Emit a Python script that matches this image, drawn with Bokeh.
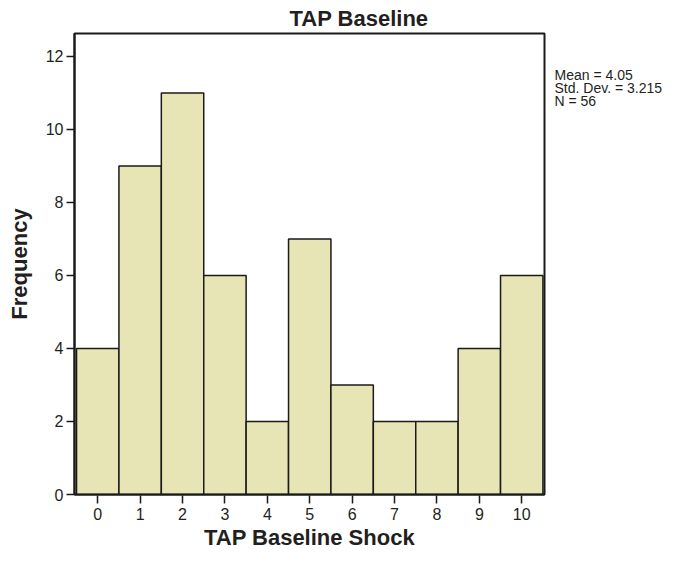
from bokeh.plotting import figure
from bokeh.layouts import row
from bokeh.models import Range1d, FixedTicker
from bokeh.core.properties import value
from bokeh.embed import file_html
from bokeh.resources import INLINE

shock_values = [0, 1, 2, 3, 4, 5, 6, 7, 8, 9, 10]
frequencies = [4, 9, 11, 6, 2, 7, 3, 2, 2, 4, 6]
y_ticks = [0, 2, 4, 6, 8, 10, 12]
stats_lines = ["Mean = 4.05", "Std. Dev. = 3.215", "N = 56"]

TXT = "#231f20"
FONT = "Liberation Sans"

p = figure(width=546, height=555, output_backend="svg", toolbar_location=None,
           x_range=Range1d(-0.548, 10.537), y_range=Range1d(0, 12.63),
           min_border_left=74, min_border_right=2, min_border_bottom=61, min_border_top=32)

p.title.text = "TAP Baseline"
p.title.align = "left"
p.title.offset = 215
p.title.text_font = FONT
p.title.text_font_size = "22px"
p.title.text_font_style = "bold"
p.title.text_color = TXT
p.title.standoff = 6

p.vbar(x=shock_values, top=frequencies, width=1.0, bottom=0,
       fill_color="#e7e4b5", line_color="#1a1a1a", line_width=1.5)

p.xgrid.grid_line_color = None
p.ygrid.grid_line_color = None
p.outline_line_color = "#1a1a1a"
p.outline_line_width = 2
p.background_fill_color = "white"
p.border_fill_color = "white"

p.xaxis.ticker = FixedTicker(ticks=shock_values)
p.yaxis.ticker = FixedTicker(ticks=y_ticks)
for ax in (p.xaxis, p.yaxis):
    ax.axis_line_color = "#1a1a1a"
    ax.axis_line_width = 2
    ax.major_tick_line_color = "#1a1a1a"
    ax.major_tick_line_width = 1.5
    ax.minor_tick_line_color = None
    ax.major_label_text_font = FONT
    ax.major_label_text_font_size = "16px"
    ax.major_label_text_color = TXT
    ax.axis_label_text_font = FONT
    ax.axis_label_text_font_size = "22px"
    ax.axis_label_text_font_style = "bold"
    ax.axis_label_text_color = TXT

p.xaxis.major_tick_in = -1
p.xaxis.major_tick_out = 9
p.xaxis.major_label_standoff = 4
p.xaxis.axis_label = "TAP Baseline Shock"
p.xaxis.axis_label_standoff = 2

p.yaxis.major_tick_in = 0
p.yaxis.major_tick_out = 8
p.yaxis.major_label_standoff = 3
p.yaxis.axis_label = "Frequency"
p.yaxis.axis_label_standoff = 11

# side panel holding the summary statistics; shares the frequency scale
s = figure(width=121, height=555, output_backend="svg", toolbar_location=None,
           title=None, x_range=Range1d(0, 121), y_range=p.y_range,
           x_axis_type=None, y_axis_type=None,
           min_border=0, min_border_left=0, min_border_right=0,
           min_border_top=32, min_border_bottom=61)
s.outline_line_color = None
s.xgrid.grid_line_color = None
s.ygrid.grid_line_color = None
s.background_fill_color = "white"
s.border_fill_color = "white"
s.text(x=[8, 8, 8], y=[11.48, 11.13, 10.77], text=stats_lines,
       text_font=value(FONT), text_font_size="14px", text_color=TXT,
       text_baseline="middle", text_align="left")

layout = row(p, s)
open("out.html", "w").write(file_html(layout, INLINE))
